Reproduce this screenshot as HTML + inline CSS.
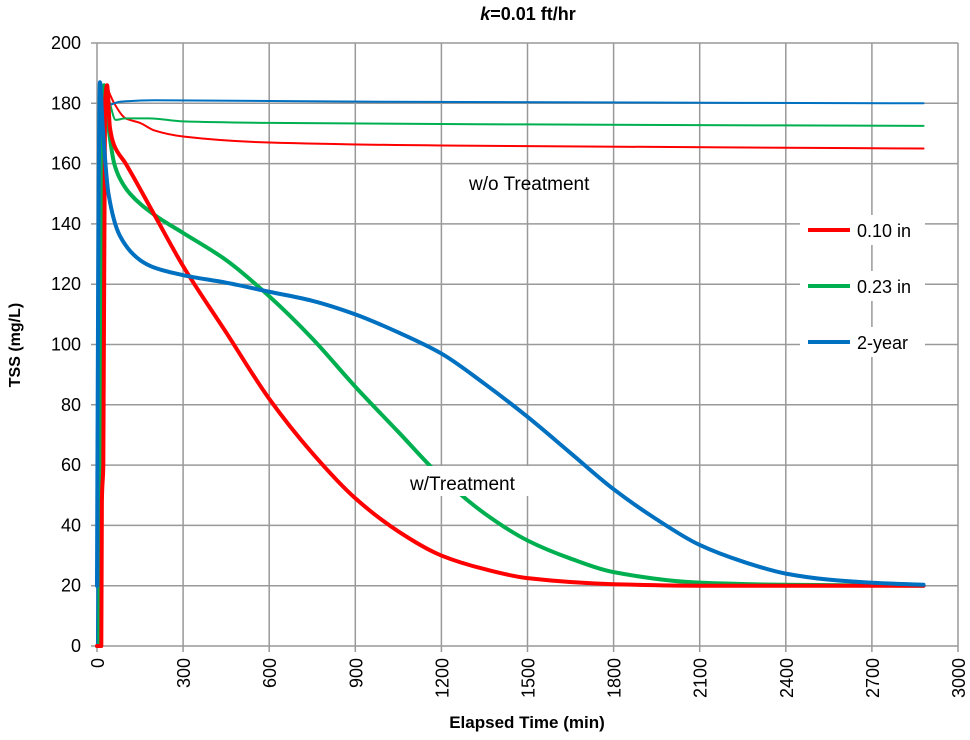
<!DOCTYPE html>
<html><head><meta charset="utf-8"><style>
body{margin:0;background:#fff;}
svg text{font-family:"Liberation Sans",sans-serif;}
</style></head><body>
<svg id="chart" width="970" height="735" xmlns="http://www.w3.org/2000/svg">
<text x="528" y="20" text-anchor="middle" font-size="18" font-weight="bold"><tspan font-style="italic">k</tspan>=0.01 ft/hr</text>
<g id="grid"></g><g id="series"></g><g id="ticks"></g>
<text transform="translate(20,345) rotate(-90)" text-anchor="middle" font-size="16" font-weight="bold">TSS (mg/L)</text>
<text x="527" y="728" text-anchor="middle" font-size="17" font-weight="bold">Elapsed Time (min)</text>
<text x="469" y="190" font-size="19">w/o Treatment</text>
<rect x="404" y="466" width="150" height="30" fill="#fff"/>
<text x="410" y="490" font-size="19">w/Treatment</text>
<g id="legend"></g>
</svg>
<script>
const xTicks=[0,300,600,900,1200,1500,1800,2100,2400,2700,3000];
const yTicks=[0,20,40,60,80,100,120,140,160,180,200];
const seriesNames=["0.10 in","0.23 in","2-year"];
const seriesColors=["#ff0000","#00b050","#0070c0"];
const redNoT=[[0,0],[10,60],[20,180],[32,186],[45,183],[60,180],[100,175],[150,173.5],[200,171],[300,169],[600,167],[1200,166],[2000,165.5],[2880,165]];
const greenNoT=[[0,0],[10,70],[20,180],[30,186],[45,180],[65,174.5],[100,175],[180,175],[300,174],[600,173.5],[1500,173],[2880,172.5]];
const blueNoT=[[0,0],[5,120],[12,187],[25,183],[40,179.5],[80,180.5],[200,181],[1000,180.5],[2880,180]];
const redT=[[0,0],[15,0],[17,48],[22,60],[28,180],[35,186],[45,172],[60,166],[100,160],[200,143],[300,126],[450,104],[600,82],[750,64],[900,49],[1050,38],[1200,30],[1350,25.5],[1500,22.5],[1800,20.5],[2100,20],[2880,20]];
const greenT=[[0,0],[8,0],[12,80],[18,170],[25,186],[40,172],[60,160],[80,155],[115,150],[200,143],[300,137],[450,128],[600,116],[750,102],[900,86],[1050,71],[1200,56],[1350,44],[1500,35],[1650,29],[1800,24.5],[2100,21],[2400,20.3],[2880,20]];
const blueT=[[0,20],[4,120],[10,187],[20,172],[40,150],[80,136],[150,128],[200,125.5],[300,123],[450,120.5],[600,117.5],[750,114.5],[900,110],[1050,104],[1200,97],[1350,87],[1500,76],[1650,64],[1800,52],[1950,42],[2100,33.5],[2250,28],[2400,24],[2550,22],[2700,21],[2880,20.3]];
const X0=97,X1=958,Y0=646,Y1=43;
const sx=v=>X0+(v/3000)*(X1-X0);
const sy=v=>Y0-(v/200)*(Y0-Y1);
const NS="http://www.w3.org/2000/svg";
function mk(tag,attrs,parent){const e=document.createElementNS(NS,tag);for(const k in attrs)e.setAttribute(k,attrs[k]);parent.appendChild(e);return e;}
const grid=document.getElementById('grid'),ticks=document.getElementById('ticks'),ser=document.getElementById('series'),leg=document.getElementById('legend');
xTicks.forEach(t=>{
 const l=mk('line',{x1:sx(t),x2:sx(t),y1:Y1,y2:Y0+6,stroke:'#999','stroke-width':1.5},grid);
 
 
 const tx=mk('text',{transform:`translate(${sx(t)+7},${Y0+12}) rotate(-90)`,'text-anchor':'end','font-size':18},ticks);
 tx.textContent=t;
 
 
});
yTicks.forEach(t=>{
 const l=mk('line',{x1:X0-6,x2:X1,y1:sy(t),y2:sy(t),stroke:'#999','stroke-width':1.5},grid);
 
 
 const tx=mk('text',{x:X0-16,y:sy(t)+6,'text-anchor':'end','font-size':18},ticks);
 tx.textContent=t;
 
 
});
// monotone cubic (Fritsch-Carlson) in data space, no overshoot
function monoPath(data){
 const n=data.length,xs=data.map(d=>d[0]),ys=data.map(d=>d[1]);
 const dx=[],m=[];
 for(let i=0;i<n-1;i++){dx.push(xs[i+1]-xs[i]);m.push((ys[i+1]-ys[i])/dx[i]);}
 const t=[m[0]];
 for(let i=1;i<n-1;i++){
  if(m[i-1]*m[i]<=0)t.push(0);
  else{const w1=2*dx[i]+dx[i-1],w2=dx[i]+2*dx[i-1];t.push((w1+w2)/(w1/m[i-1]+w2/m[i]));}
 }
 t.push(m[n-2]);
 let s='M'+sx(xs[0])+','+sy(ys[0]);
 for(let i=0;i<n-1;i++){
  const h=dx[i];
  s+=` C${sx(xs[i]+h/3)},${sy(ys[i]+t[i]*h/3)} ${sx(xs[i+1]-h/3)},${sy(ys[i+1]-t[i+1]*h/3)} ${sx(xs[i+1])},${sy(ys[i+1])}`;
 }
 return s;
}
function draw(data,color,w,name){
 const p=mk('path',{d:monoPath(data),fill:'none',stroke:color,'stroke-width':w,'stroke-linejoin':'round','stroke-linecap':'round'},ser);
 
 
}
draw(redNoT,seriesColors[0],2,'line-0-10-in-without-treatment');
draw(greenNoT,seriesColors[1],2,'line-0-23-in-without-treatment');
draw(blueNoT,seriesColors[2],2,'line-2-year-without-treatment');
draw(greenT,seriesColors[1],4,'line-0-23-in-with-treatment');
draw(redT,seriesColors[0],4,'line-0-10-in-with-treatment');
draw(blueT,seriesColors[2],4,'line-2-year-with-treatment');
const legY=[230,286,342];
seriesNames.forEach((n,i)=>{
 mk('rect',{x:800,y:legY[i]-15,width:125,height:30,fill:'#fff'},leg);
 const l=mk('line',{x1:808,x2:850,y1:legY[i],y2:legY[i],stroke:seriesColors[i],'stroke-width':4},leg);
 
 
 const t=mk('text',{x:857,y:legY[i]+7,'font-size':18},leg);
 t.textContent=n;
 
 
});
</script>
</body></html>
